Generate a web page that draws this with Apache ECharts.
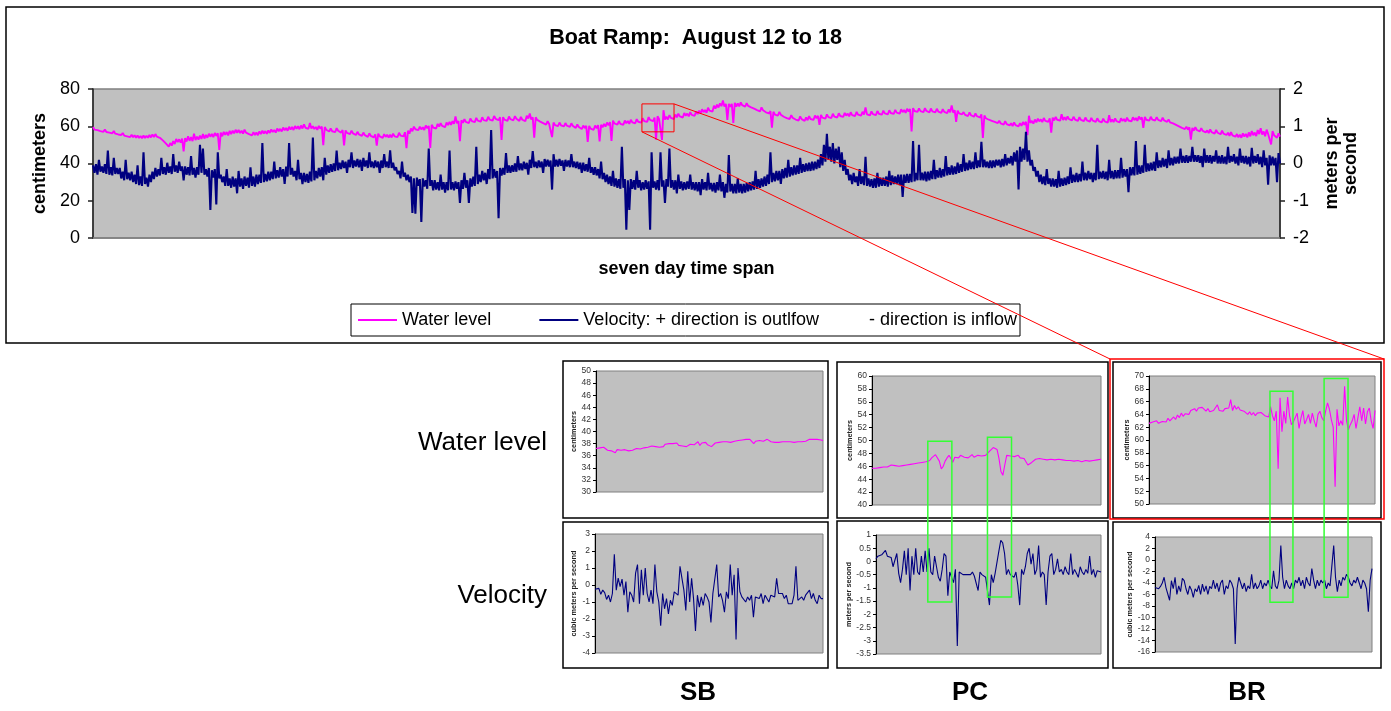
<!DOCTYPE html>
<html>
<head>
<meta charset="utf-8">
<script src="https://cdn.jsdelivr.net/npm/echarts@6/dist/echarts.min.js"></script>
<style>
html, body { margin: 0; padding: 0; background: #ffffff; }
#chart { width: 1391px; height: 711px; }
</style>
</head>
<body>
<div id="chart"></div>
<script>
const FONT = '"Liberation Sans", Arial, Helvetica, sans-serif';

// Boat Ramp, August 12 to 18: water level (cm) and velocity (m/s), 800 readings across the week
const waterLevel = [
  59.6, 58.2, 59.1, 57.9, 58.8, 57.4, 58.4, 57.0, 58.2, 56.9, 57.8, 56.6, 57.5, 56.2, 57.4, 56.0, 56.9, 55.6, 56.6, 55.3,
  56.4, 55.0, 55.9, 54.6, 55.6, 54.2, 55.5, 54.1, 55.2, 53.8, 55.1, 53.7, 54.8, 53.6, 55.0, 53.7, 54.9, 53.8, 55.3, 54.0,
  55.6, 54.2, 55.8, 54.4, 55.2, 53.8, 53.9, 52.4, 52.2, 50.8, 50.4, 49.0, 51.0, 49.6, 52.0, 50.5, 53.2, 51.5, 53.0, 51.2,
  53.4, 46.5, 53.6, 51.8, 54.6, 52.2, 54.2, 52.0, 56.0, 52.6, 54.4, 52.8, 55.0, 53.2, 55.8, 53.4, 55.4, 53.8, 56.0, 54.4,
  55.9, 54.2, 56.4, 54.8, 56.2, 47.3, 56.6, 54.6, 57.0, 55.4, 56.9, 55.1, 57.5, 55.8, 57.6, 56.2, 58.1, 56.5, 58.0, 56.4,
  57.6, 56.0, 58.2, 56.6, 57.2, 55.8, 56.6, 55.1, 56.8, 55.3, 56.6, 55.2, 57.2, 55.8, 57.6, 56.1, 57.4, 55.9, 57.8, 56.4,
  58.3, 56.9, 58.0, 56.6, 58.8, 57.3, 58.6, 57.2, 59.3, 57.8, 59.1, 57.6, 59.7, 58.2, 59.6, 58.0, 60.1, 58.6, 60.0, 58.4,
  60.4, 58.8, 61.0, 59.2, 60.2, 58.6, 61.8, 58.8, 60.0, 58.5, 59.6, 58.1, 60.2, 58.7, 59.8, 49.8, 59.6, 58.1, 58.7, 57.2,
  58.8, 57.3, 58.2, 56.8, 59.0, 57.6, 58.1, 56.6, 58.0, 49.7, 57.8, 56.4, 57.2, 55.8, 57.6, 56.2, 56.8, 55.3, 57.0, 55.6,
  56.2, 54.8, 56.6, 55.2, 55.8, 54.3, 56.2, 54.8, 55.4, 54.0, 55.6, 49.6, 56.0, 54.6, 55.2, 53.8, 55.8, 54.3, 55.4, 54.0,
  55.4, 54.0, 56.0, 54.6, 55.6, 54.2, 56.5, 55.0, 56.0, 54.6, 56.8, 48.2, 57.6, 56.0, 58.8, 57.3, 59.8, 58.4, 59.3, 57.9,
  59.8, 58.3, 59.5, 58.0, 60.4, 58.9, 60.2, 48.3, 60.8, 59.3, 60.3, 58.8, 61.3, 59.8, 61.7, 60.2, 61.0, 59.5, 62.0, 60.6,
  62.3, 60.8, 62.7, 61.3, 65.2, 61.6, 62.8, 52.0, 63.2, 61.8, 63.8, 62.3, 63.2, 61.7, 64.2, 62.8, 63.7, 62.2, 64.5, 63.0,
  64.0, 62.5, 64.8, 63.3, 64.3, 62.9, 65.1, 63.6, 64.5, 63.0, 65.5, 64.0, 64.8, 63.3, 64.8, 52.6, 64.9, 63.5, 64.4, 62.9,
  65.2, 63.8, 64.7, 63.2, 65.4, 64.0, 64.4, 62.9, 65.0, 63.5, 64.2, 62.7, 65.6, 64.2, 66.8, 63.6, 64.8, 53.9, 64.8, 63.4,
  64.0, 62.5, 63.2, 61.7, 62.4, 60.9, 62.7, 61.3, 62.2, 54.2, 62.0, 60.6, 61.6, 60.1, 62.0, 60.5, 61.4, 59.9, 61.7, 60.3,
  61.2, 59.7, 61.6, 60.2, 60.6, 59.1, 61.0, 59.6, 60.0, 58.5, 60.4, 59.0, 60.2, 51.6, 60.2, 58.7, 59.6, 58.1, 60.4, 58.9,
  60.6, 51.8, 60.8, 59.4, 61.3, 59.8, 62.0, 60.5, 62.2, 52.1, 63.0, 61.5, 62.4, 60.9, 62.8, 61.3, 62.3, 60.8, 63.1, 61.6,
  62.8, 61.3, 63.5, 62.1, 63.1, 61.6, 63.8, 62.4, 63.4, 61.9, 64.3, 62.8, 63.8, 62.3, 64.9, 63.4, 64.2, 62.7, 64.6, 52.8,
  65.4, 63.9, 64.8, 52.7, 68.6, 63.6, 65.1, 63.6, 66.0, 64.5, 65.4, 63.9, 66.3, 64.8, 66.8, 65.3, 66.2, 64.7, 67.1, 65.6,
  66.8, 65.3, 67.6, 66.1, 67.1, 65.6, 68.0, 66.5, 68.4, 66.9, 69.1, 67.6, 68.7, 67.2, 69.9, 68.4, 69.4, 67.9, 71.0, 69.5,
  71.6, 70.1, 72.3, 70.8, 73.8, 70.6, 72.0, 63.4, 72.0, 70.5, 72.0, 61.8, 72.6, 70.6, 72.2, 70.7, 72.8, 71.3, 72.0, 70.5,
  72.4, 70.9, 71.6, 70.1, 71.0, 69.5, 70.2, 68.7, 69.5, 68.0, 70.1, 68.6, 69.0, 67.5, 68.4, 66.9, 68.2, 59.2, 67.8, 66.3,
  67.2, 65.7, 67.7, 66.2, 66.6, 65.1, 65.9, 64.4, 65.4, 63.9, 66.0, 64.5, 65.1, 63.6, 64.6, 63.1, 65.3, 63.8, 64.4, 62.9,
  64.7, 63.2, 65.4, 63.9, 64.9, 63.4, 65.8, 64.3, 65.6, 60.7, 66.1, 64.6, 65.6, 64.1, 66.4, 64.9, 65.9, 64.4, 66.7, 65.2,
  66.2, 64.7, 67.0, 65.5, 66.5, 65.0, 67.2, 65.7, 66.8, 65.3, 67.5, 66.0, 67.0, 65.5, 67.7, 66.2, 67.2, 65.7, 67.8, 66.3,
  70.1, 66.4, 67.3, 65.8, 68.0, 66.5, 67.5, 66.0, 68.2, 66.7, 67.7, 66.2, 68.4, 66.9, 67.9, 66.4, 68.6, 67.1, 68.1, 66.6,
  68.8, 67.3, 68.3, 66.8, 69.1, 67.6, 68.7, 67.2, 69.4, 67.9, 69.2, 57.2, 69.7, 68.2, 69.2, 67.7, 69.6, 68.1, 69.1, 67.6,
  69.7, 68.2, 69.0, 67.5, 69.5, 68.0, 68.9, 67.4, 69.4, 67.9, 68.7, 67.2, 69.2, 67.7, 68.6, 67.1, 69.0, 67.5, 71.2, 67.3,
  68.6, 62.4, 68.4, 66.9, 67.9, 66.4, 67.6, 66.1, 67.0, 65.5, 67.4, 65.9, 66.6, 65.1, 66.9, 65.4, 66.2, 64.7, 66.4, 53.7,
  65.8, 64.3, 65.0, 63.5, 64.4, 62.9, 63.8, 62.3, 63.2, 61.7, 63.0, 61.5, 62.4, 60.9, 62.7, 61.2, 62.0, 60.5, 61.6, 60.1,
  62.1, 60.6, 61.4, 59.9, 61.7, 60.2, 62.3, 60.8, 62.4, 55.2, 65.6, 61.8, 62.9, 61.4, 63.6, 62.1, 64.1, 62.6, 63.7, 62.2,
  64.4, 62.9, 63.9, 62.4, 64.2, 56.5, 64.6, 63.1, 65.0, 63.5, 64.5, 63.0, 66.4, 63.4, 64.8, 63.3, 65.3, 63.8, 64.7, 63.2,
  65.1, 63.6, 64.4, 62.9, 64.9, 63.4, 64.2, 62.7, 64.7, 63.2, 64.0, 62.5, 64.5, 63.0, 63.8, 62.3, 64.3, 62.8, 63.6, 62.1,
  64.1, 62.6, 63.4, 61.9, 66.0, 62.2, 63.7, 62.2, 64.2, 62.7, 63.6, 62.1, 64.3, 62.8, 63.9, 62.4, 64.6, 63.1, 64.1, 62.6,
  64.8, 63.3, 64.4, 62.9, 65.2, 63.7, 64.8, 59.1, 65.0, 63.5, 64.5, 63.0, 65.1, 63.6, 64.6, 63.1, 64.9, 63.4, 64.3, 62.8,
  64.6, 63.1, 63.9, 62.4, 63.6, 62.1, 63.0, 61.5, 62.2, 60.7, 61.4, 59.9, 60.6, 59.1, 60.0, 58.5, 59.7, 58.2, 59.4, 52.8,
  59.1, 57.6, 59.5, 58.0, 58.7, 57.2, 59.0, 57.5, 58.2, 56.7, 57.8, 56.3, 58.3, 56.8, 57.6, 56.1, 58.0, 56.5, 57.2, 55.7,
  57.6, 56.0, 56.9, 55.3, 56.5, 54.8, 56.8, 55.1, 56.1, 54.4, 55.8, 54.0, 55.5, 53.8, 56.2, 54.5, 55.9, 54.0, 56.7, 54.6,
  57.4, 55.2, 56.6, 54.7, 58.0, 55.8, 59.0, 55.5, 57.2, 54.6, 58.2, 55.8, 56.8, 50.2, 57.4, 55.2, 56.0, 53.8, 56.2, 54.4
];

const velocity = [
  -0.05, -0.25, -0.02, -0.3, 0.1, -0.22, -0.08, -0.25, -0.02, -0.28, 0.35, -0.3, -0.1, -0.32, 0.15, -0.28, -0.12, -0.28, -0.12, -0.4,
  -0.22, -0.45, 0.1, -0.42, -0.25, -0.45, -0.22, -0.5, -0.3, -0.55, -0.05, -0.58, -0.35, -0.6, 0.3, -0.55, -0.38, -0.62, -0.3, -0.5,
  -0.22, -0.42, -0.12, -0.35, -0.15, -0.32, 0.15, -0.28, -0.1, -0.3, 0.02, -0.25, -0.08, -0.28, 0.25, -0.22, -0.05, -0.25, 0.05, -0.2,
  -0.08, -0.45, -0.08, -0.3, -0.1, -0.32, 0.2, -0.3, -0.12, -0.38, -0.1, -0.3, 0.5, -0.25, 0.4, -0.3, -0.15, -0.35, -0.12, -1.25,
  -0.18, -0.38, -0.15, -1.1, 0.3, -0.4, -0.3, -0.5, -0.35, -0.6, -0.15, -0.6, -0.4, -0.65, -0.35, -0.62, -0.4, -0.8, -0.2, -0.62,
  -0.4, -0.68, -0.35, -0.6, -0.38, -0.65, -0.1, -0.6, -0.35, -0.62, -0.3, -0.55, -0.3, -0.52, 0.55, -0.5, -0.28, -0.48, -0.22, -0.45,
  -0.22, -0.42, 0.05, -0.4, -0.18, -0.38, -0.1, -0.35, -0.15, -0.55, -0.08, -0.35, 0.55, -0.3, -0.12, -0.35, -0.2, -0.45, 0.1, -0.42,
  -0.25, -0.55, -0.25, -0.5, -0.28, -0.52, -0.22, -0.48, 0.7, -0.45, -0.2, -0.4, -0.12, -0.35, -0.1, -0.45, 0.15, -0.3, -0.05, -0.25,
  -0.02, -0.22, 0.0, -0.2, 0.35, -0.18, 0.02, -0.15, 0.08, -0.12, 0.05, -0.25, 0.1, -0.1, 0.3, -0.12, 0.08, -0.08, 0.12, -0.1,
  0.1, -0.2, 0.15, -0.08, 0.08, -0.12, 0.3, -0.1, 0.05, -0.12, 0.08, -0.1, 0.05, -0.25, 0.08, -0.12, 0.25, -0.1, 0.05, -0.12,
  0.35, -0.12, 0.02, -0.18, -0.1, -0.28, -0.2, -0.4, 0.05, -0.35, -0.25, -0.45, -0.3, -0.5, -0.35, -1.33, -0.4, -1.35, -0.38, -0.6,
  -0.42, -1.57, -0.4, -0.62, -0.45, -0.68, 0.4, -0.6, -0.45, -0.72, -0.45, -0.7, -0.5, -0.72, -0.3, -0.7, -0.5, -0.78, -0.5, -0.72,
  0.35, -0.7, -0.5, -0.72, -0.48, -0.68, -0.5, -1.06, -0.45, -0.68, -0.25, -0.65, -0.45, -1.06, -0.4, -0.62, -0.35, -0.6, 0.45, -0.55,
  -0.3, -0.5, -0.2, -0.45, -0.25, -0.55, -0.15, -0.42, 0.9, -0.4, -0.15, -0.38, -0.2, -1.47, -0.12, -0.32, -0.12, -0.3, 0.28, -0.25,
  -0.05, -0.25, -0.05, -0.22, 0.0, -0.22, 0.2, -0.18, 0.0, -0.18, 0.05, -0.15, 0.02, -0.3, 0.1, -0.12, 0.33, -0.1, 0.05, -0.12,
  0.08, -0.1, 0.05, -0.25, 0.12, -0.08, 0.1, -0.08, 0.08, -0.7, 0.25, -0.08, 0.1, -0.08, 0.12, -0.06, 0.08, -0.2, 0.1, -0.08,
  0.08, -0.1, 0.25, -0.1, 0.05, -0.12, 0.05, -0.15, 0.02, -0.25, 0.02, -0.2, -0.02, -0.22, 0.15, -0.25, -0.1, -0.3, -0.1, -0.32,
  -0.15, -0.4, 0.05, -0.42, -0.25, -0.5, -0.3, -0.55, -0.35, -0.6, -0.2, -0.62, -0.4, -0.65, -0.42, -0.68, 0.45, -0.65, -0.42, -1.78,
  -0.45, -1.25, -0.42, -0.68, -0.45, -0.7, -0.2, -0.65, -0.45, -0.72, -0.5, -0.7, -0.45, -0.68, -0.48, -1.78, 0.3, -0.65, -0.48, -0.7,
  -0.45, -0.72, 0.3, -0.62, -0.45, -1.06, -0.42, -0.62, 0.4, -0.65, -0.45, -0.7, -0.45, -0.8, -0.3, -0.68, -0.48, -0.72, -0.5, -0.7,
  -0.48, -0.68, -0.3, -0.7, -0.5, -0.72, -0.5, -0.75, -0.5, -0.85, -0.42, -0.7, -0.5, -0.72, -0.25, -0.7, -0.52, -0.75, -0.52, -0.78,
  -0.5, -0.72, -0.3, -0.75, -0.5, -0.92, -0.55, -0.78, 0.23, -0.75, -0.55, -0.8, -0.55, -0.8, -0.4, -0.78, -0.55, -0.8, -0.55, -0.78,
  -0.52, -0.75, -0.5, -0.72, -0.48, -0.7, -0.2, -0.68, -0.42, -0.65, -0.4, -0.62, -0.35, -0.6, -0.3, -0.55, 0.3, -0.5, -0.25, -0.48,
  -0.2, -0.45, -0.2, -0.55, -0.15, -0.4, -0.12, -0.38, 0.1, -0.35, -0.1, -0.32, -0.05, -0.3, -0.05, -0.28, 0.15, -0.25, -0.02, -0.22,
  0.0, -0.2, 0.02, -0.2, 0.05, -0.18, 0.05, -0.15, 0.1, -0.12, 0.25, -0.05, 0.5, 0.05, 0.8, 0.1, 0.45, 0.05, 0.55, 0.0,
  0.4, 0.1, 0.45, -0.1, 0.3, -0.2, 0.1, -0.3, -0.15, -0.45, -0.3, -0.55, -0.25, -0.5, -0.35, -0.6, -0.15, -0.55, -0.35, -0.58,
  0.18, -0.6, -0.4, -0.62, -0.42, -0.65, -0.4, -0.65, -0.25, -0.62, -0.38, -0.6, -0.38, -0.6, -0.35, -0.62, -0.2, -0.58, -0.32, -0.55,
  -0.35, -0.55, -0.3, -0.58, -0.3, -0.9, -0.3, -0.52, -0.28, -0.52, -0.28, -0.5, 0.6, -0.48, -0.25, -0.45, 0.5, -0.45, -0.25, -0.45,
  -0.22, -0.48, -0.22, -0.45, -0.2, -0.42, 0.1, -0.42, -0.18, -0.38, -0.12, -0.38, -0.15, -0.35, 0.2, -0.32, -0.1, -0.3, -0.05, -0.3,
  -0.08, -0.28, 0.02, -0.25, -0.02, -0.22, 0.25, -0.2, 0.02, -0.18, 0.08, -0.15, 0.05, -0.15, 0.3, -0.12, 0.08, -0.1, 0.58, -0.1,
  0.1, -0.1, 0.05, -0.12, 0.08, -0.12, 0.08, -0.1, 0.1, -0.05, 0.1, -0.1, 0.12, -0.08, 0.25, -0.05, 0.15, 0.0, 0.2, -0.05,
  0.3, 0.05, 0.35, -0.7, 0.45, 0.05, 0.4, 0.1, 0.85, 0.05, 0.35, -0.05, 0.1, -0.2, -0.1, -0.35, -0.2, -0.5, -0.3, -0.55,
  -0.35, -0.58, -0.15, -0.55, -0.4, -0.62, -0.4, -0.62, -0.42, -0.65, -0.2, -0.62, -0.4, -0.6, -0.38, -0.58, -0.35, -0.55, -0.1, -0.52,
  -0.3, -0.5, -0.25, -0.5, -0.28, -0.48, 0.05, -0.45, -0.25, -0.45, -0.2, -0.42, -0.25, -0.5, -0.25, -0.45, 0.5, -0.42, -0.22, -0.4,
  -0.2, -0.42, -0.22, -0.45, 0.1, -0.4, -0.2, -0.42, -0.18, -0.4, -0.18, -0.4, 0.15, -0.38, -0.15, -0.35, -0.15, -0.77, -0.1, -0.32,
  -0.1, -0.32, 0.6, -0.3, -0.05, -0.28, -0.05, -0.25, 0.5, -0.22, 0.0, -0.2, 0.02, -0.18, 0.05, -0.2, 0.3, -0.12, 0.08, -0.1,
  0.15, -0.08, 0.12, -0.12, 0.35, -0.05, 0.15, -0.05, 0.18, 0.0, 0.18, 0.0, 0.4, 0.02, 0.2, 0.02, 0.22, 0.02, 0.2, 0.05,
  0.45, 0.05, 0.22, 0.05, 0.22, 0.02, 0.2, -0.1, 0.4, 0.02, 0.22, 0.02, 0.22, 0.0, 0.2, 0.05, 0.35, 0.0, 0.2, 0.0,
  0.22, 0.0, 0.18, -0.02, 0.45, 0.02, 0.2, 0.05, 0.25, 0.0, 0.18, -0.05, 0.4, 0.02, 0.2, 0.0, 0.2, -0.02, 0.18, -0.08,
  0.42, 0.0, 0.2, 0.02, 0.25, -0.02, 0.18, -0.1, 0.35, -0.05, 0.15, -0.57, 0.22, -0.05, 0.18, -0.05, 0.15, -0.5, 0.28, 0.0
];

// Close-up records for the three stations
const sbWater = [
  37.2, 37.1, 37.3, 37.0, 37.4, 37.1, 36.9, 37.2, 36.8, 37.1, 36.5, 37.0, 37.2, 36.9, 37.1, 37.0, 37.2, 36.8, 37.1, 36.9,
  37.0, 37.2, 36.9, 37.1, 37.0, 37.3, 37.1, 37.4, 37.2, 37.6, 37.3, 37.5, 37.8, 37.4, 37.7, 37.5, 37.9, 37.6, 38.0, 37.8,
  38.0, 37.8, 38.1, 37.7, 37.9, 37.6, 37.8, 37.5, 37.7, 37.9, 37.6, 37.8, 37.6, 38.3, 37.7, 38.1, 37.9, 38.2, 37.8, 37.9,
  37.5, 37.8, 38.1, 38.3, 38.2, 38.4, 38.3, 38.5, 38.3, 38.4, 38.2, 38.5, 38.4, 38.6, 38.5, 38.7, 38.6, 38.8, 38.7, 38.6,
  38.7, 38.5, 38.0, 38.4, 38.6, 38.5, 38.7, 38.4, 38.6, 38.7, 38.5, 38.3, 38.1, 38.2, 38.3, 38.2, 38.4, 38.3, 38.5, 38.3,
  38.4, 38.3, 38.5, 38.2, 38.4, 38.3, 38.5, 38.3, 38.2, 38.4, 38.6, 38.7, 38.6, 38.7, 38.6, 38.7, 38.5, 38.6, 38.5
];
const sbVelocity = [
  -0.25, -0.15, -0.2, -0.55, -0.3, -0.45, -0.85, -0.6, -1.0, -0.5, 1.8, -0.3, 0.4, -0.1, 0.35, -0.6, 0.2, -1.6, -0.4, -0.6,
  -1.0, 0.7, 1.2, -1.1, 0.9, -0.6, 1.0, -0.5, -1.0, -0.3, -1.1, 1.2, -0.4, -1.0, -2.4, -0.5, -1.4, -0.8, -1.7, -0.9,
  -1.2, -0.4, -0.5, -0.6, 1.1, 1.2, -0.3, -1.5, 0.8, -1.0, 0.4, -0.8, -2.7, -0.6, -1.3, -0.7, -1.2, -0.5, -0.7, -1.0,
  -2.2, -0.5, -0.4, 1.2, -0.7, -0.5, -0.9, -1.6, -0.4, -0.8, 1.2, -0.6, 0.6, -3.2, 1.0, -0.4, -0.7, -0.8, -1.0, -0.7,
  -0.9, -0.6, -1.9, -0.7, -0.6, -0.8, -0.5, -1.1, -0.6, -0.5, -1.0, -0.6, -0.5, -0.7, 0.4, -0.5, -0.6, -0.5, -0.8, -0.6,
  -1.1, -1.0, -1.1, -0.6, 1.1, -0.9, -1.0, -0.7, -0.9, -0.6, -0.7, -0.3, -0.8, -0.5, -0.9, -1.1, -0.6, -0.8, -0.8
];
const pcWater = [
  45.7, 45.8, 45.7, 45.9, 45.8, 46.0, 45.9, 46.1, 45.9, 46.0, 46.2, 46.0, 46.1, 46.3, 46.0, 46.2, 46.1, 45.9, 46.2, 46.1,
  46.3, 46.2, 46.4, 46.3, 46.5, 46.4, 46.6, 46.5, 46.7, 46.6, 46.9, 47.3, 47.6, 47.8, 47.5, 46.8, 45.6, 46.0, 46.8, 47.3,
  47.7, 47.2, 46.6, 47.4, 47.6, 47.3, 47.7, 47.5, 47.4, 47.6, 47.3, 47.5, 47.8, 47.4, 47.6, 47.7, 47.5, 47.6, 47.8, 47.7,
  48.0, 48.3, 48.6, 48.9, 49.1, 48.6, 47.2, 45.2, 44.6, 46.2, 47.7, 48.0, 47.6, 47.3, 47.5, 47.4, 47.7, 47.3, 47.5, 47.2,
  46.7, 46.2, 46.3, 46.6, 46.9, 47.1, 47.4, 47.2, 47.3, 47.1, 47.2, 47.0, 47.3, 47.1, 47.2, 47.0, 47.3, 47.1, 47.2, 47.0,
  47.1, 46.9, 47.2, 46.9, 47.0, 46.8, 47.1, 46.9, 46.8, 46.7, 46.8, 46.9, 47.0, 46.8, 47.0, 46.9, 47.1, 47.0, 47.1, 47.1
];
const pcVelocity = [
  0.1, 0.2, 0.22, 0.25, 0.2, 0.42, 0.2, 0.25, 0.15, -0.2, -0.2, 0.3, -0.45, -0.8, -0.3, 0.4, -0.5, 0.5, -1.1, 0.2,
  -0.5, 0.5, -0.4, -0.5, 0.2, -0.4, 0.4, -0.4, 0.5, -0.4, -0.5, 0.2, -0.2, -0.6, -0.75, -0.3, 0.3, 0.2, -1.3, -0.4,
  -0.6, -0.8, -0.3, -3.2, -0.4, -0.45, -0.5, -0.45, -0.5, -0.45, -0.5, -0.4, -0.55, -0.5, -1.1, -0.4, -0.5, -0.45, -0.6, -0.55,
  -1.65, -0.5, -0.8, -0.45, -0.5, 0.4, 0.8, 0.7, 0.3, -0.5, -0.3, -0.5, -0.55, -0.6, -0.4, -0.9, -1.65, -0.3, -0.5, -0.2,
  0.3, 0.5, -0.1, 0.3, -0.5, -0.3, 0.6, -0.6, -0.4, -0.5, -1.65, -0.4, 0.2, 0.3, -0.5, -0.3, 0.1, -0.4, -0.3, -0.5,
  -0.2, -0.4, -0.5, 0.3, -0.5, -0.3, -0.45, -0.6, -0.2, -0.4, -0.5, -0.3, -0.45, 0.2, -0.5, -0.3, -0.6, -0.35, -0.3, -0.4
];
const brWater = [
  62.6, 62.4, 62.8, 62.5, 63.0, 62.6, 62.3, 62.9, 63.1, 62.8, 63.4, 63.0, 63.3, 63.6, 63.2, 63.9, 63.5, 64.2, 63.7, 64.1,
  64.4, 64.0, 64.6, 64.3, 64.9, 64.5, 65.0, 64.7, 65.1, 64.8, 64.5, 64.9, 64.4, 64.7, 64.6, 64.5, 65.5, 64.6, 64.9, 64.5,
  64.9, 64.6, 65.0, 66.3, 64.6, 65.4, 64.8, 65.2, 64.7, 64.9, 64.5, 64.7, 64.0, 64.4, 63.9, 64.3, 63.8, 64.2, 63.9, 64.3,
  64.0, 63.8, 64.1, 63.6, 65.2, 63.8, 63.0, 64.5, 55.5, 66.6, 61.3, 64.5, 62.6, 66.7, 63.8, 62.4, 62.8, 63.0, 64.2, 61.8,
  63.4, 64.6, 62.5, 63.2, 64.0, 62.6, 64.2, 63.0, 62.0, 64.0, 64.5, 63.5, 63.0, 64.5, 65.8, 64.8, 63.2, 62.0, 52.7, 64.8,
  62.2, 63.0, 62.3, 68.4, 63.0, 61.6, 62.4, 63.0, 64.0, 61.8, 63.5, 65.2, 63.0, 65.0, 62.5, 64.4, 65.0, 63.0, 61.8, 64.6
];
const brVelocity = [
  -4.8, -4.9, -5.0, -4.6, -4.0, -3.0, -4.8, -5.0, -7.0, -3.6, -5.0, -3.0, -6.0, -4.5, -5.5, -3.2, -3.6, -5.0, -6.0, -4.5,
  -5.2, -6.5, -5.0, -5.5, -4.4, -6.0, -4.2, -5.5, -4.5, -6.0, -4.6, -5.0, -3.5, -5.0, -4.0, -5.5, -4.0, -3.5, -6.0, -4.5,
  -5.0, -3.5, -4.0, -5.0, -14.6, -5.0, -3.0, -4.0, -5.0, -4.0, -5.5, -4.5, -5.0, -2.5, -5.0, -4.0, -5.0, -4.5, -3.5, -5.0,
  -4.0, -4.5, -3.5, -4.5, -5.0, -1.9, -4.5, -5.0, -3.5, 2.5, -3.0, -5.0, -3.5, -4.5, -5.0, -4.0, -5.0, -3.5, -4.0, -3.0,
  -4.5, -3.5, -5.0, -3.0, -4.0, -4.5, -1.5, -3.5, -5.0, -3.5, -4.5, -3.5, -4.0, -3.5, -5.0, -4.0, -4.5, -4.5, 2.5, -3.0,
  -5.5, -3.5, -4.5, -3.0, -3.5, -2.5, -3.0, -4.0, -4.5, -3.5, -4.0, -3.0, -4.0, -5.0, -3.5, -4.0, -5.0, -9.0, -3.5, -1.5
];

// Axis ranges [min, max, interval]
const mainLevelRange = [0, 80, 20];
const mainVelocityRange = [-2, 2, 1];
const sbRanges = { level: [30, 50, 2], flow: [-4, 3, 1] };
const pcRanges = { level: [40, 60, 2], flow: [-3.5, 1, 0.5] };
const brRanges = { level: [50, 70, 2], flow: [-16, 4, 2] };

// Stretch of the main record enlarged in the BR panel (reading index range, cm range)
const closeUpWindow = { from: 369.5, to: 391.1, high: 72, low: 57 };
// Surge events picked out in the PC and BR close-ups (sample index range, level top, velocity bottom)
const pcEvents = [
  { from: 29, to: 41.5, level: 49.9, flow: -1.53 },
  { from: 60, to: 72.5, level: 50.5, flow: -1.34 }
];
const brEvents = [
  { from: 63.7, to: 75.8, level: 67.6, flow: -7.33 },
  { from: 92.2, to: 104.8, level: 69.6, flow: -6.46 }
];

const VELOCITY_NAME = 'Velocity: + direction is outlfow          - direction is inflow';
const MAGENTA = '#FF00FF';
const NAVY = '#000080';
const PLOT_BG = '#C0C0C0';

const steps = n => Array.from({ length: n }, (_, i) => i);

function catAxis(gridIndex, n, extra) {
  return Object.assign({
    type: 'category', gridIndex, data: steps(n), boundaryGap: false,
    axisLine: { show: false }, axisTick: { show: false }, axisLabel: { show: false },
    splitLine: { show: false }
  }, extra || {});
}

function smallValueAxis(gridIndex, range, name, gap) {
  return {
    type: 'value', gridIndex, min: range[0], max: range[1], interval: range[2],
    name, nameLocation: 'middle', nameGap: gap, nameRotate: 90,
    nameTextStyle: { fontSize: 7.3, fontWeight: 'bold', color: '#222', fontFamily: FONT },
    axisLine: { show: true, lineStyle: { color: '#000', width: 1 } },
    axisTick: { show: true, length: 3, lineStyle: { color: '#000', width: 1 } },
    axisLabel: { fontSize: 8.5, color: '#333', margin: 5, fontFamily: FONT },
    splitLine: { show: false }
  };
}

function smallGrid(left, top, width, height) {
  return { left, top, width, height, show: true, backgroundColor: PLOT_BG, borderColor: '#808080', borderWidth: 1 };
}

function lineSeries(name, xi, yi, data, color, width) {
  return {
    name, type: 'line', xAxisIndex: xi, yAxisIndex: yi, data,
    symbol: 'none', showSymbol: false, color,
    lineStyle: { color, width, join: 'bevel' }, itemStyle: { color },
    silent: true, animation: false, emphasis: { disabled: true }
  };
}

const mainAxisText = { fontSize: 18, color: '#000', fontFamily: FONT };
const mainNameText = { fontSize: 18, fontWeight: 'bold', color: '#000', fontFamily: FONT };

const option = {
  animation: false,
  backgroundColor: '#ffffff',
  title: {
    text: 'Boat Ramp:  August 12 to 18', left: 'center', top: 22,
    textStyle: { fontSize: 21.5, fontWeight: 'bold', color: '#000', fontFamily: FONT }
  },
  legend: {
    data: ['Water level', VELOCITY_NAME], left: 358, top: 311, padding: 0,
    itemGap: 48, itemWidth: 39, itemHeight: 2, icon: 'rect', selectedMode: false,
    textStyle: { fontSize: 18, color: '#000', fontFamily: FONT }
  },
  grid: [
    { left: 93, top: 89, width: 1187, height: 149, show: true, backgroundColor: PLOT_BG, borderColor: '#808080', borderWidth: 1.5 },
    smallGrid(596, 371, 227, 121),
    smallGrid(595, 534, 228, 119),
    smallGrid(872, 376, 229, 129),
    smallGrid(876, 535, 225, 119),
    smallGrid(1149, 376, 226, 128),
    smallGrid(1155, 537, 217, 115)
  ],
  xAxis: [
    catAxis(0, waterLevel.length, {
      name: 'seven day time span', nameLocation: 'middle', nameGap: 22, nameTextStyle: mainNameText,
      axisLine: { show: true, lineStyle: { color: '#808080', width: 1.5 } }
    }),
    catAxis(1, sbWater.length),
    catAxis(2, sbVelocity.length),
    catAxis(3, pcWater.length),
    catAxis(4, pcVelocity.length),
    catAxis(5, brWater.length),
    catAxis(6, brVelocity.length)
  ],
  yAxis: [
    {
      type: 'value', gridIndex: 0, position: 'left',
      min: mainLevelRange[0], max: mainLevelRange[1], interval: mainLevelRange[2],
      name: 'centimeters', nameLocation: 'middle', nameGap: 44, nameRotate: 90, nameTextStyle: mainNameText,
      axisLine: { show: true, lineStyle: { color: '#222', width: 1.5 } },
      axisTick: { show: true, length: 5, lineStyle: { color: '#222', width: 1.5 } },
      axisLabel: Object.assign({ margin: 13 }, mainAxisText),
      splitLine: { show: false }
    },
    {
      type: 'value', gridIndex: 0, position: 'right',
      min: mainVelocityRange[0], max: mainVelocityRange[1], interval: mainVelocityRange[2],
      name: 'meters per\nsecond', nameLocation: 'middle', nameGap: 43, nameRotate: 90,
      nameTextStyle: Object.assign({ lineHeight: 19, align: 'center' }, mainNameText),
      axisLine: { show: true, lineStyle: { color: '#222', width: 1.5 } },
      axisTick: { show: true, length: 5, lineStyle: { color: '#222', width: 1.5 } },
      axisLabel: Object.assign({ margin: 13 }, mainAxisText),
      splitLine: { show: false }
    },
    smallValueAxis(1, sbRanges.level, 'centimeters', 17),
    smallValueAxis(2, sbRanges.flow, 'cubic meters per second', 18),
    smallValueAxis(3, pcRanges.level, 'centimeters', 19),
    smallValueAxis(4, pcRanges.flow, 'meters per second', 24),
    smallValueAxis(5, brRanges.level, 'centimeters', 18),
    smallValueAxis(6, brRanges.flow, 'cubic meters per second', 19)
  ],
  series: [
    lineSeries('Water level', 0, 0, waterLevel, MAGENTA, 1.9),
    lineSeries(VELOCITY_NAME, 0, 1, velocity, NAVY, 2.1),
    lineSeries('SB water level', 1, 2, sbWater, MAGENTA, 1.1),
    lineSeries('SB velocity', 2, 3, sbVelocity, NAVY, 1.1),
    lineSeries('PC water level', 3, 4, pcWater, MAGENTA, 1.1),
    lineSeries('PC velocity', 4, 5, pcVelocity, NAVY, 1.1),
    lineSeries('BR water level', 5, 6, brWater, MAGENTA, 1.1),
    lineSeries('BR velocity', 6, 7, brVelocity, NAVY, 1.1)
  ]
};

const chart = echarts.init(document.getElementById('chart'), null, { renderer: 'canvas' });
chart.setOption(option);

// Pixel helpers on top of the laid-out axes
function xPix(axisIndex, n, pos) {
  const a = chart.convertToPixel({ xAxisIndex: axisIndex }, 0);
  const b = chart.convertToPixel({ xAxisIndex: axisIndex }, n - 1);
  return a + (b - a) * pos / (n - 1);
}
function yPix(axisIndex, v) {
  return chart.convertToPixel({ yAxisIndex: axisIndex }, v);
}

function frame(x, y, w, h, stroke, lw, z) {
  return { type: 'rect', shape: { x, y, width: w, height: h }, style: { fill: 'none', stroke, lineWidth: lw }, silent: true, z: z || 1 };
}
function label(text, x, y, size, weight, align) {
  return {
    type: 'text', x, y, silent: true, z: 5,
    style: { text, fontSize: size, fontWeight: weight, fontFamily: FONT, fill: '#000', align, verticalAlign: 'middle' }
  };
}

const brPanel = { x: 1110, y: 359, w: 274, h: 160 };

const elements = [
  frame(6, 7, 1378, 336, '#000', 1.5),
  frame(351, 304, 669, 32, '#000', 1),
  frame(563, 361, 265, 157, '#000', 1.5),
  frame(563, 522, 265, 146, '#000', 1.5),
  frame(837, 362, 271, 156, '#000', 1.5),
  frame(837, 521, 271, 147, '#000', 1.5),
  frame(1113, 362, 268, 156, '#000', 1.5),
  frame(1113, 522, 268, 146, '#000', 1.5),
  frame(brPanel.x, brPanel.y, brPanel.w, brPanel.h, '#FF0000', 1.5, 20),
  label('Water level', 547, 443, 26, 'normal', 'right'),
  label('Velocity', 547, 596, 26, 'normal', 'right'),
  label('SB', 698, 693, 26, 'bold', 'center'),
  label('PC', 970, 693, 26, 'bold', 'center'),
  label('BR', 1247, 693, 26, 'bold', 'center')
];

// Enlarged stretch of the main record and its leader lines to the BR panel
const nMain = waterLevel.length;
const zx0 = xPix(0, nMain, closeUpWindow.from);
const zx1 = xPix(0, nMain, closeUpWindow.to);
const zy0 = yPix(0, closeUpWindow.high);
const zy1 = yPix(0, closeUpWindow.low);
elements.push(frame(zx0, zy0, zx1 - zx0, zy1 - zy0, '#FF0000', 1, 20));
elements.push({ type: 'line', shape: { x1: zx1, y1: zy0, x2: brPanel.x + brPanel.w, y2: brPanel.y }, style: { stroke: '#FF0000', lineWidth: 1 }, silent: true, z: 20 });
elements.push({ type: 'line', shape: { x1: zx0, y1: zy1, x2: brPanel.x, y2: brPanel.y }, style: { stroke: '#FF0000', lineWidth: 1 }, silent: true, z: 20 });

// Event boxes spanning the level and velocity close-ups
function eventBoxes(events, xAxisIndex, n, levelAxis, flowAxis) {
  events.forEach(ev => {
    const x0 = xPix(xAxisIndex, n, ev.from);
    const x1 = xPix(xAxisIndex, n, ev.to);
    const y0 = yPix(levelAxis, ev.level);
    const y1 = yPix(flowAxis, ev.flow);
    elements.push(frame(x0, y0, x1 - x0, y1 - y0, '#33FF33', 1.5, 25));
  });
}
eventBoxes(pcEvents, 3, pcWater.length, 4, 5);
eventBoxes(brEvents, 5, brWater.length, 6, 7);

chart.setOption({ graphic: { elements } });
</script>
</body>
</html>
